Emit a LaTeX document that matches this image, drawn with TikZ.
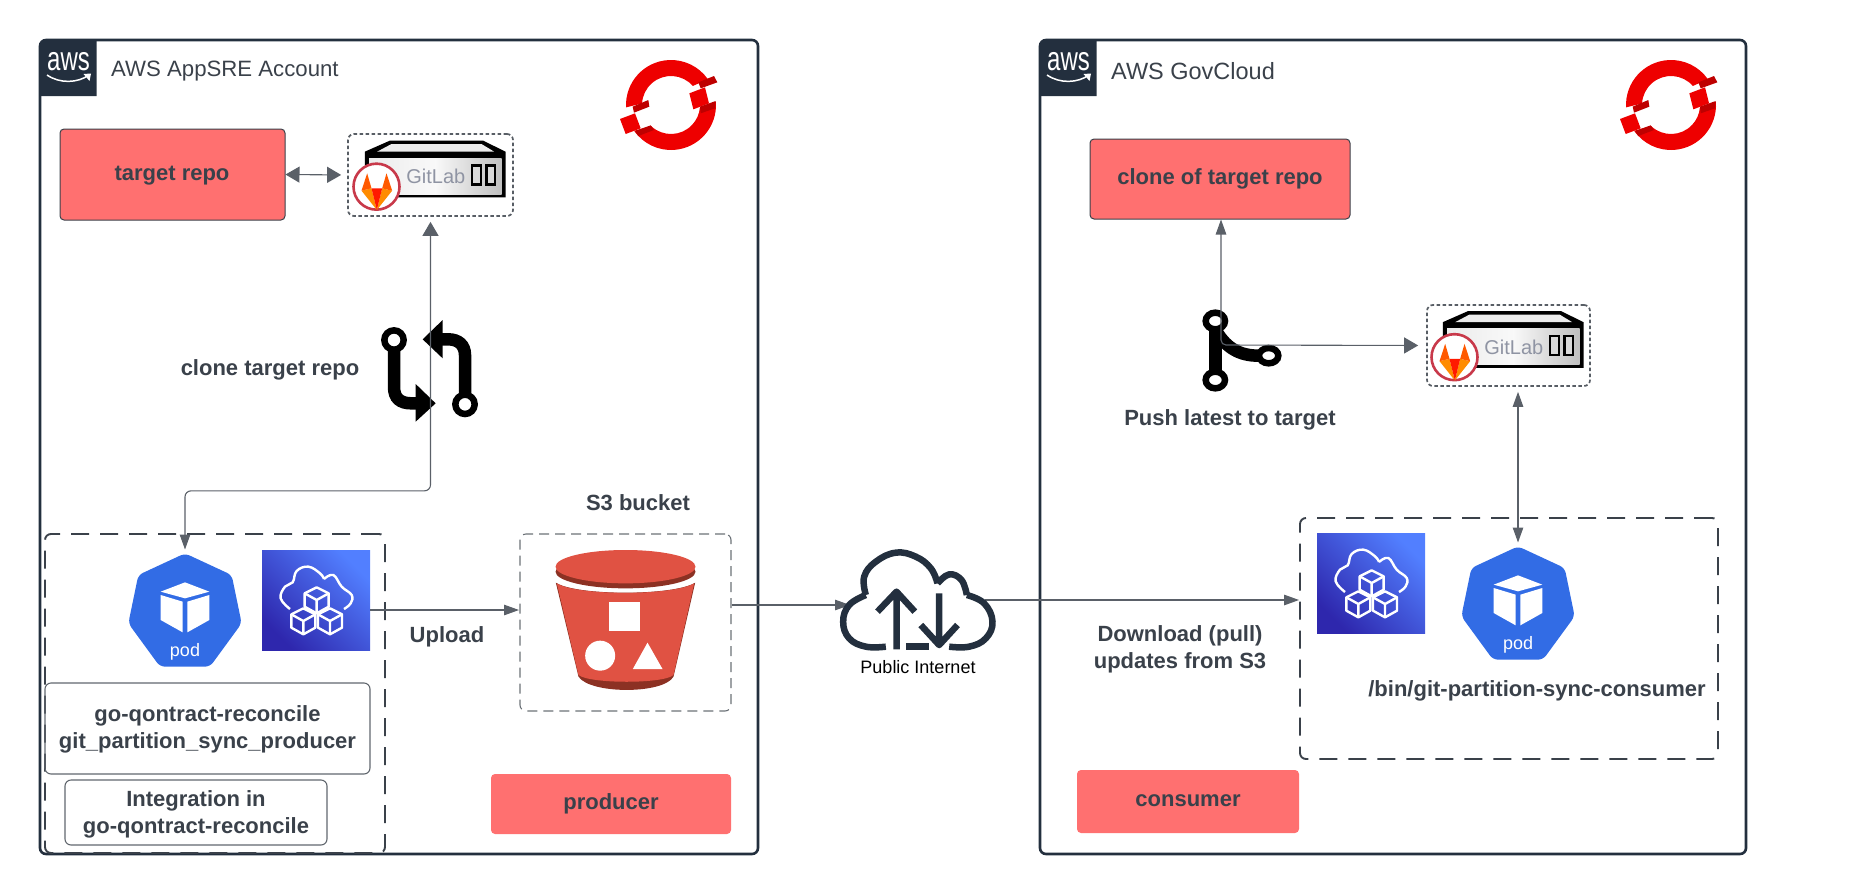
\documentclass[tikz,border=0pt]{standalone}
\usepackage{graphicx}
\usepackage{fontspec}
\setmainfont{Liberation Sans}
\usetikzlibrary{arrows.meta}

\definecolor{inkc}{HTML}{3A414A}
\definecolor{linec}{HTML}{5A6068}
\definecolor{framec}{HTML}{232F3E}
\definecolor{salmonc}{HTML}{FF7070}
\definecolor{podc}{HTML}{326CE5}
\definecolor{bucketc}{HTML}{E05243}
\definecolor{bucketd}{HTML}{8C3123}
\definecolor{hatc}{HTML}{EE0000}
\definecolor{hatd}{HTML}{BE0000}
\definecolor{clusterlo}{HTML}{2E27AD}
\definecolor{clusterhi}{HTML}{527FFF}
\definecolor{gitgray}{HTML}{8F94A3}
\definecolor{foxring}{HTML}{C8394A}

\tikzset{
    wideTip/.tip={Triangle[length=14pt,width=16pt]},
    slimTip/.tip={Triangle[length=15pt,width=10.5pt]},
    acct/.style={draw=framec,line width=2.6pt,rounded corners=6pt,inner sep=0pt},
    spot/.style={inner sep=0pt,outer sep=0pt},
    redbox/.style={fill=salmonc,rounded corners=4pt,inner sep=0pt},
    edged/.style={draw=inkc,line width=1pt},
    whitebox/.style={draw=inkc!80,line width=1.1pt,rounded corners=6pt,inner sep=0pt},
    podbox/.style={draw=inkc,line width=1.9pt,rounded corners=6pt,inner sep=0pt,dash pattern=on 18pt off 11pt},
    thinbox/.style={draw=inkc!75,line width=1.1pt,rounded corners=6pt,inner sep=0pt,dash pattern=on 10pt off 6pt},
    dotbox/.style={draw=inkc!85,line width=1.7pt,rounded corners=6pt,inner sep=0pt,dash pattern=on 3.5pt off 2.5pt},
    clusterbox/.style={inner sep=0pt,bottom color=clusterlo,top color=clusterhi,shading angle=-45},
    lbl/.style={inner sep=0pt,align=center,text=inkc,yshift=-2.4pt,font=\bfseries\fontsize{22}{27}\selectfont},
    title/.style={inner sep=0pt,text=inkc},
    conn/.style={draw=linec,line width=1.1pt},
}

% icons, each drawn round the origin of its pic
\tikzset{
    awsbadge/.pic={
        \fill[framec] (0,56) [rounded corners=5pt] -- (0,0) [sharp corners] -- (56.5,0) -- (56.5,56) -- cycle;
        \node[spot,text=white,font=\fontsize{24}{24}\selectfont] (awsword) at (28.5,22) {\scalebox{1}[1.4]{aws}};
        \draw[white,line width=1.5pt] (7,35) .. controls (20,44) and (38,43) .. (49,35);
        \fill[white] (43.5,34) -- (51,33.5) -- (49.5,41) -- cycle;
    },
    hatlogo/.pic={
        \begin{scope}[scale=1/3]
            \fill[hatc] (177:135) arc (177:325:135) -- (319:87) arc (319:183:87) -- cycle;
            \fill[hatc] (-4:135) arc (-4:145:135) -- (133:87) arc (133:5:87) -- cycle;
            \fill[hatc] (55,-35) -- (102,-53) -- (114,-5) -- (67,13) -- cycle;
            \fill[hatc] (-153,42) -- (-108,25) -- (-91,70) -- (-136,87) -- cycle;
            \fill[hatd] (82,-68) -- (129,-87) -- (139,-68) -- (89,-50) -- cycle;
            \fill[hatd] (87,5) -- (134,-12) -- (132,10) -- (89,25) -- cycle;
            \fill[hatd] (-115,5) -- (-68,-15) -- (-65,5) -- (-111,23) -- cycle;
            \fill[hatd] (-108,78) -- (-61,61) -- (-51,75) -- (-98,93) -- cycle;
        \end{scope}
    },
    gitlabicon/.pic={
        \begin{scope}[scale=1/3,shift={(-272,-165)}]
            \fill[black] (75,95) -- (150,62) -- (430,62) -- (497,95) -- (497,232) -- (75,232) -- cycle;
            \fill[gray!15] (112,95) -- (155,72) -- (425,72) -- (463,95) -- cycle;
            \shade[left color=gray!15,right color=gray!50,middle color=gray!5] (88,115) rectangle (485,222);
            \node[spot,text=gitgray,font=\fontsize{20}{20}\selectfont] (gitlabword) at (288,170) {GitLab};
            \draw[black,fill=white!85!black,line width=2.4pt] (397,137) rectangle (423,193);
            \draw[black,fill=white!85!black,line width=2.4pt] (440,137) rectangle (465,193);
            \draw[foxring,fill=white,line width=2.6pt] (110,200) circle (69);
            \fill[orange!90!yellow] (65,212) -- (95,205) -- (111,270) -- cycle;
            \fill[orange!90!yellow] (157,212) -- (127,205) -- (111,270) -- cycle;
            \fill[orange!70!red] (65,212) -- (95,205) -- (82,160) -- cycle;
            \fill[orange!70!red] (157,212) -- (127,205) -- (140,160) -- cycle;
            \fill[red!80!orange] (95,205) -- (127,205) -- (111,270) -- cycle;
        \end{scope}
    },
    podicon/.pic={
        \begin{scope}[scale=1/3,shift={(-195,-195)}]
            \fill[podc,rounded corners=5pt] (195,25) -- (335,90) -- (365,235) -- (270,365) -- (120,365) -- (25,235) -- (55,90) -- cycle;
            \fill[white] (122,140) -- (195,112) -- (268,140) -- (195,160) -- cycle;
            \fill[white] (122,150) -- (188,170) -- (188,262) -- (122,225) -- cycle;
            \fill[white] (202,170) -- (268,150) -- (268,225) -- (202,262) -- cycle;
            \node[spot,text=white,font=\fontsize{18}{18}\selectfont] (podword) at (195,322) {pod};
        \end{scope}
    },
    clustericon/.pic={
        \begin{scope}[scale=1/3,shift={(-588,-165)}]
            \draw[white,line width=2.4pt] plot[smooth,tension=.7] coordinates {(510,192) (482,160) (495,125) (518,112) (530,78) (565,65) (600,85) (612,102)};
            \draw[white,line width=2.4pt] plot[smooth,tension=.7] coordinates {(612,102) (640,90) (665,125) (695,150) (692,175) (672,192)};
            \foreach \cx/\cy in {590/165,550/228,630/228}{
                \begin{scope}[shift={(\cx,\cy)}]
                    \draw[white,line width=2.4pt,line join=round] (0,-38) -- (36,-20) -- (36,20) -- (0,40) -- (-36,20) -- (-36,-20) -- cycle;
                    \draw[white,line width=2.4pt,line join=round] (-36,-20) -- (0,0) -- (36,-20) (0,0) -- (0,40);
                \end{scope}
            }
        \end{scope}
    },
    bucketicon/.pic={
        \begin{scope}[scale=1/3,shift={(-256,-247.5)}]
            \fill[bucketd] (256,95) ellipse [x radius=210,y radius=50];
            \fill[bucketc] (256,80) ellipse [x radius=210,y radius=50];
            \fill[bucketd] (47,128) .. controls (110,168) and (400,168) .. (465,128) -- (400,410) .. controls (370,463) and (150,463) .. (115,410) -- cycle;
            \fill[bucketc] (50,130) .. controls (110,168) and (400,168) .. (462,130) -- (400,405) .. controls (370,432) and (150,432) .. (115,405) -- cycle;
            \fill[white] (207,185) rectangle (298,272);
            \fill[white] (180,347) circle (45);
            \fill[white] (322,308) -- (278,387) -- (367,387) -- cycle;
        \end{scope}
    },
    cloudicon/.pic={
        \begin{scope}[scale=1/3,shift={(-1130,-195)},framec]
            \tikzset{every path/.append style={line width=6.5pt,line join=round}}
            \draw plot[smooth,tension=.7] coordinates {(1035,320) (975,320) (925,295) (907,245) (925,195) (975,165)};
            \draw plot[smooth,tension=.7] coordinates {(975,165) (970,110) (1005,65) (1065,38) (1125,50) (1170,85) (1190,130)};
            \draw plot[smooth,tension=.7] coordinates {(1190,130) (1225,103) (1262,120) (1278,165)};
            \draw plot[smooth,tension=.7] coordinates {(1278,165) (1330,190) (1355,245) (1335,295) (1285,320) (1225,320)};
            \draw (1095,320) -- (1165,320);
            \draw (1067,328) -- (1067,155) (1010,215) -- (1067,155) -- (1122,215);
            \draw (1195,160) -- (1195,315) (1140,255) -- (1195,315) -- (1250,255);
        \end{scope}
    },
    pullicon/.pic={
        \begin{scope}[scale=1/3,shift={(-180,-183)},black]
            \draw[line width=12.5pt] (72,120) -- (72,230) .. controls (72,265) and (90,280) .. (125,280) -- (150,280);
            \fill (137,222) -- (197,280) -- (137,335) -- cycle;
            \draw[line width=6.5pt,fill=white] (72,90) circle (29);
            \draw[line width=12.5pt] (285,250) -- (285,135) .. controls (285,105) and (265,88) .. (235,88) -- (205,88);
            \fill (218,30) -- (158,88) -- (218,145) -- cycle;
            \draw[line width=6.5pt,fill=white] (285,283) circle (29);
        \end{scope}
    },
    branchicon/.pic={
        \begin{scope}[scale=1/3,shift={(-135,-150)},black]
            \draw[line width=12.5pt] (76,90) -- (76,215);
            \draw[line width=12.5pt] (80,95) .. controls (110,145) and (150,167) .. (205,167);
            \draw[line width=6.5pt,fill=white] (76,63) ellipse [x radius=29,y radius=25];
            \draw[line width=6.5pt,fill=white] (76,240) ellipse [x radius=29,y radius=25];
            \draw[line width=6.5pt,fill=white] (236,167) ellipse [x radius=29,y radius=23];
        \end{scope}
    },
}

\begin{document}
\begin{tikzpicture}[x=1pt,y=-1pt]
    \useasboundingbox (0,0) rectangle (1857,894);

    % the two accounts
    \node[acct,minimum width=718pt,minimum height=814pt] (acctL) at (399,447) {};
    \node[acct,minimum width=706pt,minimum height=814pt] (acctR) at (1393,447) {};
    \pic at (40,40) {awsbadge};
    \pic at (1040,40) {awsbadge};
    \node[title,anchor=west,font=\fontsize{22.2}{27}\selectfont] (acctLlbl) at (111,71.5) {AWS AppSRE Account};
    \node[title,anchor=west,font=\fontsize{23.5}{27}\selectfont] (acctRlbl) at (1111,71) {AWS GovCloud};
    \pic at (671,105) {hatlogo};
    \pic at (1671,105) {hatlogo};

    % left side
    \node[redbox,edged,minimum width=225pt,minimum height=91pt] (targetrepo) at (172.5,174.5) {};
    \node[lbl] (targetlbl) at (172,173) {target repo};
    \node[dotbox,minimum width=165pt,minimum height=82pt] (gitlabA) at (430.5,175) {};
    \pic at (gitlabA) {gitlabicon};
    \node[lbl] (clonelbl) at (270,367.5) {clone target repo};
    \node[spot,minimum width=100pt,minimum height=100pt] (pullreq) at (430,371) {};
    \pic at (pullreq) {pullicon};

    \node[podbox,minimum width=340pt,minimum height=319pt] (podboxL) at (215,693.5) {};
    \node[spot,minimum width=113pt,minimum height=113pt] (podL) at (185,610) {};
    \pic at (podL) {podicon};
    \node[clusterbox,minimum width=108pt,minimum height=100pt] (clusterL) at (316,600) {};
    \pic at (clusterL) {clustericon};
    \node[whitebox,minimum width=325pt,minimum height=91pt] (producerbox) at (207.5,728.5) {};
    \node[lbl] (producerlbl) at (207.5,727) {go-qontract-reconcile\\git\_partition\_sync\_producer};
    \node[whitebox,minimum width=262pt,minimum height=65pt] (integrbox) at (196,812.5) {};
    \node[lbl] (integrlbl) at (196,812) {Integration in\\go-qontract-reconcile};

    \node[lbl] (uploadlbl) at (447,634) {Upload};
    \node[lbl] (s3lbl) at (638,500) {S3 bucket};
    \node[thinbox,minimum width=211pt,minimum height=177pt] (s3box) at (625.5,622.5) {};
    \pic at (s3box) {bucketicon};
    \node[redbox,minimum width=240pt,minimum height=60pt] (producer) at (611,804) {};
    \node[lbl] (producerword) at (611,801.5) {producer};

    % middle
    \node[spot,minimum width=135pt,minimum height=100pt] (cloud) at (917.5,605) {};
    \node[spot,text=black,font=\fontsize{18}{18}\selectfont] (cloudlbl) at (918,667) {Public Internet};

    % right side
    \node[redbox,edged,minimum width=260pt,minimum height=80pt] (clonerepo) at (1220,179) {};
    \node[lbl] (clonereplbl) at (1220,176) {clone of target repo};
    \node[spot,minimum width=70pt,minimum height=80pt] (branch) at (1235,350) {};
    \pic at (branch) {branchicon};
    \node[lbl] (pushlbl) at (1230,417.5) {Push latest to target};
    \node[dotbox,minimum width=163pt,minimum height=81pt] (gitlabB) at (1508.5,345.5) {};
    \pic at (gitlabB) {gitlabicon};

    \node[podbox,minimum width=418pt,minimum height=241pt] (podboxR) at (1509,638.5) {};
    \node[clusterbox,minimum width=108pt,minimum height=100pt] (clusterR) at (1371,583) {};
    \pic at (clusterR) {clustericon};
    \node[spot,minimum width=113pt,minimum height=113pt] (podR) at (1518,603) {};
    \pic at (podR) {podicon};
    \node[lbl] (binlbl) at (1537,688.5) {/bin/git-partition-sync-consumer};
    \node[lbl] (downloadlbl) at (1180,646.5) {Download (pull)\\updates from S3};
    \node[redbox,minimum width=222pt,minimum height=63pt] (consumer) at (1188,801.5) {};
    \node[lbl] (consumerword) at (1188,798.5) {consumer};

    % connectors
    \coordinate (uplink) at (519,610);
    \coordinate (s3link) at (850,605);
    \coordinate (dllink) at (985,600);
    \coordinate (branchjoint) at (1221,345);

    \draw[conn,{wideTip}-{wideTip},shorten >=6pt] (targetrepo.east) -- (gitlabA.west);
    \draw[conn,{wideTip}-{slimTip},rounded corners=6pt,shorten <=5pt,shorten >=4pt] (gitlabA.south) -- ++(0,274) -| (podL.north);
    \draw[conn,-{slimTip}] (uplink -| clusterL.east) -- (uplink);
    \draw[conn,-{slimTip}] (s3link -| s3box.east) -- (s3link);
    \draw[conn,-{slimTip}] (dllink) -- (dllink -| podboxR.west);
    \draw[conn,{slimTip}-{wideTip},rounded corners=5pt,shorten >=8pt] (branchjoint |- clonerepo.south) -- (branchjoint) -- (gitlabB.west);
    \draw[conn,{slimTip}-{slimTip},shorten <=5pt,shorten >=4pt] (podR.north |- gitlabB.south) -- (podR.north);

    \pic at (cloud) {cloudicon};
\end{tikzpicture}
\end{document}
